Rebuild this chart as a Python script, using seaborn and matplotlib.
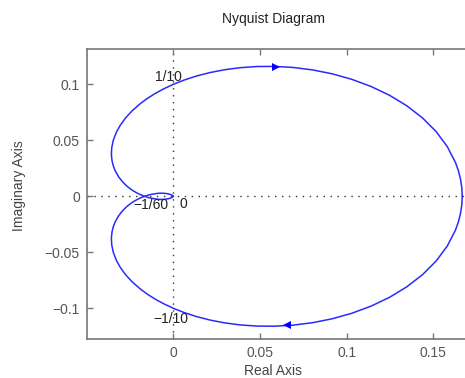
import matplotlib
matplotlib.use("Agg")
import matplotlib.pyplot as plt
import seaborn as sns
import pandas as pd

# lower half of the curve (from +0.1667 on the real axis round to the origin)
re_lower = [0.16667, 0.16642, 0.16568, 0.16447, 0.16278, 0.15804, 0.15165, 0.14380,
            0.13473, 0.12472, 0.11402, 0.10289, 0.09157, 0.08028, 0.06919, 0.05846,
            0.04820, 0.03851, 0.02945, 0.02105, 0.01335, 0.00633, 0.0, -0.00567,
            -0.01072, -0.01516, -0.01905, -0.02392, -0.02775, -0.03067, -0.03282,
            -0.03467, -0.03558, -0.03577, -0.03540, -0.03462, -0.03353, -0.03155,
            -0.02933, -0.02703, -0.02475, -0.02257, -0.02051, -0.01860, -0.01685,
            -0.01475, -0.01291, -0.00929, -0.00719, -0.00562, -0.00315, -0.00187,
            -0.00117, -0.00052, -0.00026, 0.0]
im_lower = [0.0, -0.00763, -0.01522, -0.02273, -0.03012, -0.04437, -0.05771, -0.06990,
            -0.08077, -0.09019, -0.09809, -0.10448, -0.10938, -0.11286, -0.11503, -0.11599,
            -0.11588, -0.11483, -0.11298, -0.11046, -0.10738, -0.10386, -0.1, -0.09589,
            -0.09161, -0.08722, -0.08279, -0.07615, -0.06966, -0.06340, -0.05744,
            -0.05002, -0.04326, -0.03717, -0.03174, -0.02692, -0.02268, -0.01729,
            -0.01291, -0.00939, -0.00657, -0.00433, -0.00256, -0.00118, -0.00010,
            0.00096, 0.00169, 0.00260, 0.00278, 0.00273, 0.00225, 0.00173,
            0.00131, 0.00078, 0.00049, 0.0]

re_upper = [0.16667, 0.16642, 0.16568, 0.16447, 0.16278, 0.15804, 0.15165, 0.14380,
            0.13473, 0.12472, 0.11402, 0.10289, 0.09157, 0.08028, 0.06919, 0.05846,
            0.04820, 0.03851, 0.02945, 0.02105, 0.01335, 0.00633, 0.0, -0.00567,
            -0.01072, -0.01516, -0.01905, -0.02392, -0.02775, -0.03067, -0.03282,
            -0.03467, -0.03558, -0.03577, -0.03540, -0.03462, -0.03353, -0.03155,
            -0.02933, -0.02703, -0.02475, -0.02257, -0.02051, -0.01860, -0.01685,
            -0.01475, -0.01291, -0.00929, -0.00719, -0.00562, -0.00315, -0.00187,
            -0.00117, -0.00052, -0.00026, 0.0]
im_upper = [0.0, 0.00763, 0.01522, 0.02273, 0.03012, 0.04437, 0.05771, 0.06990,
            0.08077, 0.09019, 0.09809, 0.10448, 0.10938, 0.11286, 0.11503, 0.11599,
            0.11588, 0.11483, 0.11298, 0.11046, 0.10738, 0.10386, 0.1, 0.09589,
            0.09161, 0.08722, 0.08279, 0.07615, 0.06966, 0.06340, 0.05744,
            0.05002, 0.04326, 0.03717, 0.03174, 0.02692, 0.02268, 0.01729,
            0.01291, 0.00939, 0.00657, 0.00433, 0.00256, 0.00118, 0.00010,
            -0.00096, -0.00169, -0.00260, -0.00278, -0.00273, -0.00225, -0.00173,
            -0.00131, -0.00078, -0.00049, 0.0]

# direction arrows on the curve
arrow_x = [0.0593, 0.0654]
arrow_y = [0.1155, -0.1152]
arrow_marker = ['>', '<']

xticks = [0, 0.05, 0.1, 0.15]
xtick_labels = ['0', '0.05', '0.1', '0.15']
yticks = [-0.1, -0.05, 0, 0.05, 0.1]
ytick_labels = ['\u22120.1', '\u22120.05', '0', '0.05', '0.1']

# annotation texts
notes = ['1/10', '\u22121/10', '\u22121/60', '0']
note_x = [-0.0028, -0.0012, -0.0131, 0.0058]
note_y = [0.1065, -0.1098, -0.0078, -0.0072]

sns.set_theme(style='ticks')
plt.rcParams['font.family'] = ['Liberation Sans', 'DejaVu Sans']

fig = plt.figure(figsize=(4.65, 3.78), dpi=100)
ax = fig.add_axes([0.1865, 0.1032, 0.9318, 0.768])

line_col = '#2a2aff'
low = pd.DataFrame({'re': re_lower, 'im': im_lower})
up = pd.DataFrame({'re': re_upper, 'im': im_upper})
sns.lineplot(data=low, x='re', y='im', sort=False, estimator=None, color=line_col, lw=1.1, ax=ax)
sns.lineplot(data=up, x='re', y='im', sort=False, estimator=None, color=line_col, lw=1.1, ax=ax)

for xa, ya, m in zip(arrow_x, arrow_y, arrow_marker):
    ax.plot(xa, ya, marker=m, color='#0000ff', markersize=6, markeredgewidth=0)

ax.axhline(0, color='#333333', lw=1.0, ls=(0, (1, 4)), zorder=0)
ax.axvline(0, color='#333333', lw=1.0, ls=(0, (1, 4)), zorder=0)

for t, xn, yn in zip(notes, note_x, note_y):
    ax.text(xn, yn, t, ha='center', va='center', fontsize=10, color='#222222')

ax.set_xlim(-0.05, 0.2)
ax.set_ylim(-0.1274, 0.1318)
ax.set_xticks(xticks)
ax.set_xticklabels(xtick_labels)
ax.set_yticks(yticks)
ax.set_yticklabels(ytick_labels)
ax.set_xlabel('')
ax.set_ylabel('')

for s in ax.spines.values():
    s.set_visible(True)
    s.set_color('#777777')
    s.set_linewidth(1.2)
ax.tick_params(direction='in', length=4, width=1, color='#777777', labelcolor='#555555',
               labelsize=10, top=True, right=True, pad=5)

fig.text(273.7 / 465, 1 - 19 / 378, 'Nyquist Diagram', ha='center', va='center', fontsize=10, color='#222222')
fig.text(273 / 465, 1 - 371 / 378, 'Real Axis', ha='center', va='center', fontsize=10, color='#444444')
fig.text(19 / 465, 1 - 186 / 378, 'Imaginary Axis', ha='center', va='center', rotation=90,
         fontsize=10, color='#444444')

fig.savefig('out.png', dpi=100)
